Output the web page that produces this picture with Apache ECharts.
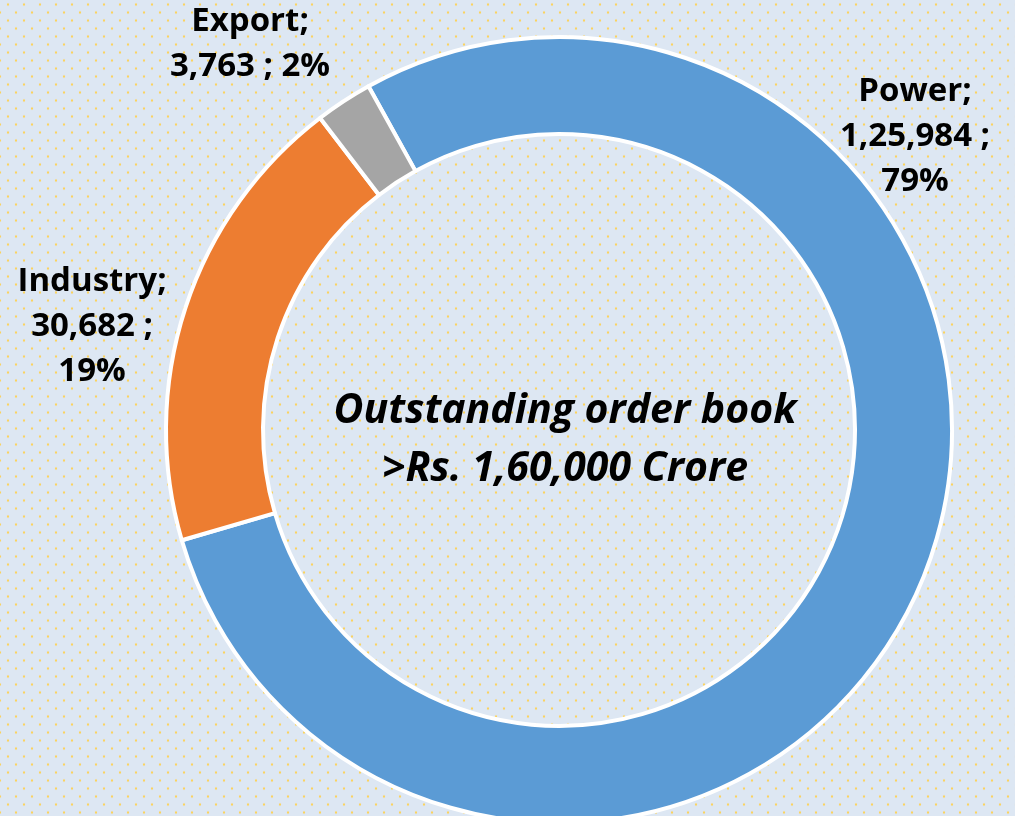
<!DOCTYPE html>
<html>
	<head>
		<meta charset="utf-8" />
		<title>Outstanding order book</title>
		<script src="https://cdn.jsdelivr.net/npm/echarts@6/dist/echarts.min.js"></script>
		<style>
			html, body { margin: 0; padding: 0; }
			body {
				background-color: #dde7f3;
				background-image:
					radial-gradient(circle, #fbd35e 1.1px, rgba(251,211,94,0) 1.6px),
					radial-gradient(circle, #fbd35e 1.1px, rgba(251,211,94,0) 1.6px);
				background-size: 16px 16px, 16px 16px;
				background-position: 0px -3.5px, -8px 4.5px;
			}
			#chart { width: 1015px; height: 816px; }
		</style>
	</head>
	<body>
		<div id="chart"></div>
	<script type="text/javascript">
		// data
		var categories = ['Power', 'Industry', 'Export'];
		var values = [125984, 30682, 3763];
		var colors = ['#5b9bd5', '#ed7d31', '#a5a5a5'];
		var centerLines = ['Outstanding order book', '>Rs. 1,60,000 Crore'];

		// label placement (like excel puts them)
		var labelPos = [[915, 137], [92, 327], [250, 44]];

		// indian grouping 1,25,984
		function inr(n) {
			var s = String(n);
			if (s.length <= 3) return s;
			var last = s.slice(-3), rest = s.slice(0, -3);
			rest = rest.replace(/\B(?=(\d{2})+(?!\d))/g, ',');
			return rest + ',' + last;
		}

		var myChart = echarts.init(document.getElementById('chart'));
		var option = {
			backgroundColor: 'transparent',
			color: colors,
			graphic: [{
				type: 'text',
				x: 565,
				y: 440,
				style: {
					text: centerLines.join('\n'),
					align: 'center',
					verticalAlign: 'middle',
					font: 'italic bold 41px "Open Sans"',
					lineHeight: 58,
					fill: '#000'
				}
			}],
			series: [{
				name: 'Order book',
				type: 'pie',
				center: [559, 430],
				radius: [296, 393],
				startAngle: 119,
				clockwise: true,
				avoidLabelOverlap: false,
				itemStyle: {
					borderColor: '#ffffff',
					borderWidth: 4
				},
				emphasis: { disabled: true },
				labelLine: { show: false },
				label: {
					show: true,
					position: 'outside',
					fontFamily: 'Open Sans',
					fontWeight: 'bold',
					fontSize: 33,
					lineHeight: 45,
					color: '#000',
					formatter: function (p) {
						var pct = Math.round(p.percent) + '%';
						if (p.dataIndex == 2) return p.name + ';\n' + inr(p.value) + ' ; ' + pct;
						return p.name + ';\n' + inr(p.value) + ' ;\n' + pct;
					}
				},
				labelLayout: function (params) {
					var pos = labelPos[params.dataIndex];
					return { x: pos[0], y: pos[1], align: 'center', verticalAlign: 'middle' };
				},
				data: categories.map(function (c, i) {
					return { name: c, value: values[i] };
				})
			}]
		};
		myChart.setOption(option);
	</script>
	</body>
</html>
